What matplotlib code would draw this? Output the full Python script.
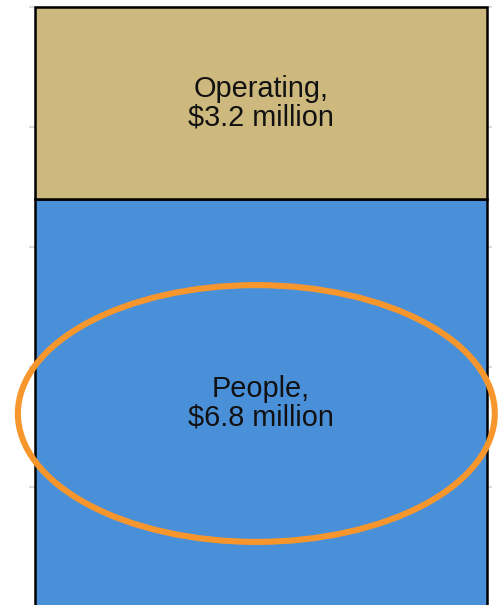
import matplotlib.pyplot as plt
from matplotlib.patches import Ellipse

plt.rcParams["font.family"] = ["Liberation Sans", "DejaVu Sans"]

categories = ["People", "Operating"]
amounts = [6.8, 3.2]  # $ million
colors = ["#4A90D9", "#CDB87D"]
gridlines = [0, 2, 4, 6, 8, 10]

fig = plt.figure(figsize=(4.98, 6.05), dpi=100)
# axes run a little past the bottom of the figure so the bar base is cut off
ax = fig.add_axes([29 / 498, -20 / 605, 463 / 498, 625 / 605])

bottom = 0
for name, val, col in zip(categories, amounts, colors):
    ax.bar(0.501, val, width=0.976, bottom=bottom, color=col,
           edgecolor="black", linewidth=1.8, zorder=2)
    ax.text(0.501, bottom + val / 2, f"{name},\n${val} million",
            ha="center", va="center", fontsize=20.8, linespacing=1.0,
            color="#111111", zorder=3)
    bottom += val

# highlight around the People segment
ax.add_patch(Ellipse((0.491, 3.23), 1.03, 4.28, fill=False,
                     edgecolor="#F7962D", linewidth=4.4, zorder=4,
                     clip_on=False))

ax.set_xlim(0, 1)
ax.set_ylim(-0.295, 10.122)
ax.set_yticks(gridlines)
ax.set_xticks([])
ax.tick_params(length=0, labelleft=False)
ax.grid(axis="y", color="#DADADA", linewidth=1.5, zorder=0)
ax.set_axisbelow(True)
for s in ax.spines.values():
    s.set_visible(False)

fig.savefig("out.png", dpi=100)
